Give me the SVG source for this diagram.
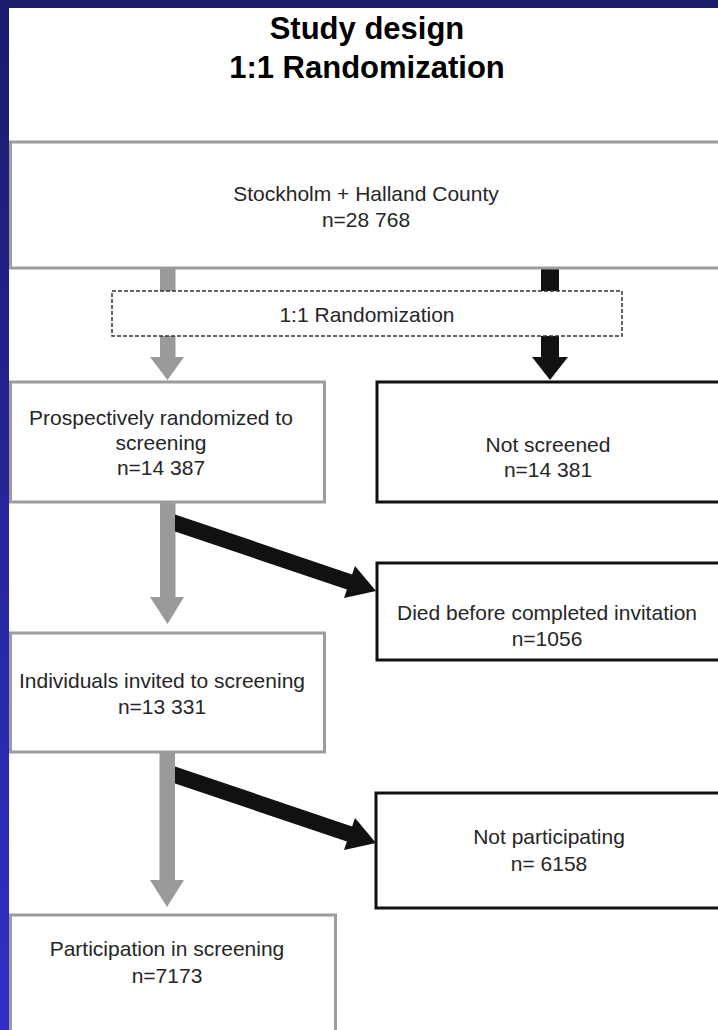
<svg xmlns="http://www.w3.org/2000/svg" width="718" height="1030" viewBox="0 0 718 1030">
  <defs>
    <linearGradient id="bg" x1="0" y1="0" x2="0" y2="1">
      <stop offset="0" stop-color="#1c1a6c"/>
      <stop offset="1" stop-color="#3030c8"/>
    </linearGradient>
    <style>
      .t{font-family:"Liberation Sans",Arial,sans-serif;font-size:21px;fill:#262626;text-anchor:middle}
      .title{font-family:"Liberation Sans",Arial,sans-serif;font-size:31px;font-weight:bold;fill:#000;text-anchor:middle}
      .gbox{fill:#fff;stroke:#9c9c9c;stroke-width:3}
      .kbox{fill:#fff;stroke:#111;stroke-width:3}
      .dbox{fill:#fff;stroke:#333;stroke-width:1.5;stroke-dasharray:4 2}
      .ga{fill:#9a9a9a}
      .ka{fill:#111}
    </style>
  </defs>
  <rect x="0" y="0" width="718" height="1030" fill="url(#bg)"/>
  <rect x="0" y="0" width="718" height="8" fill="#1d1b6d"/>
  <rect x="9" y="8" width="709" height="1022" fill="#fff"/>

  <g id="title">
    <text class="title" x="367" y="39">Study design</text>
    <text class="title" x="367" y="78">1:1 Randomization</text>
  </g>

  <g id="connectors">
    <polygon class="ga" points="160,268 175.5,268 175.5,357 184,357 167.5,380 150,357 160,357"/>
    <polygon class="ka" points="541,268 559,268 559,357 568,357 550,380 532,357 541,357"/>
    <polygon class="ga" points="160,502 175.5,502 175.5,597 184,597 167.5,624 150,597 160,597"/>
    <polygon class="ga" points="159.5,752 175,752 175,880 184,880 167,907 150,880 159.5,880"/>
    <polygon class="ka" points="175,514.4 352.1,574.4 355,566 376,591 344,598 346.9,589.6 175,531.4"/>
    <polygon class="ka" points="175,766.4 352.1,826.4 355,818 376,843 344,850 346.9,841.6 175,783.4"/>
  </g>

  <g id="population">
    <rect class="gbox" x="10.5" y="142" width="720" height="126"/>
    <text class="t" x="366" y="201">Stockholm + Halland County</text>
    <text class="t" x="366" y="227">n=28 768</text>
  </g>

  <g id="randomization">
    <rect class="dbox" x="112" y="291" width="510" height="45"/>
    <text class="t" x="367" y="322">1:1 Randomization</text>
  </g>

  <g id="randomized">
    <rect class="gbox" x="10.5" y="382" width="314" height="120"/>
    <text class="t" x="161" y="425">Prospectively randomized to</text>
    <text class="t" x="161" y="450">screening</text>
    <text class="t" x="161" y="475">n=14 387</text>
  </g>

  <g id="notscreened">
    <rect class="kbox" x="377" y="382" width="360" height="120"/>
    <text class="t" x="548" y="452">Not screened</text>
    <text class="t" x="548" y="477">n=14 381</text>
  </g>

  <g id="died">
    <rect class="kbox" x="377" y="563" width="360" height="97"/>
    <text class="t" x="547" y="620">Died before completed invitation</text>
    <text class="t" x="547" y="646">n=1056</text>
  </g>

  <g id="invited">
    <rect class="gbox" x="10.5" y="633" width="314" height="119"/>
    <text class="t" x="162" y="688">Individuals invited to screening</text>
    <text class="t" x="162" y="714">n=13 331</text>
  </g>

  <g id="notparticipating">
    <rect class="kbox" x="376" y="793" width="360" height="115"/>
    <text class="t" x="549" y="844">Not participating</text>
    <text class="t" x="549" y="871">n= 6158</text>
  </g>

  <g id="participation">
    <rect class="gbox" x="10.5" y="915" width="325" height="130"/>
    <text class="t" x="167" y="956">Participation in screening</text>
    <text class="t" x="167" y="983">n=7173</text>
  </g>
</svg>
